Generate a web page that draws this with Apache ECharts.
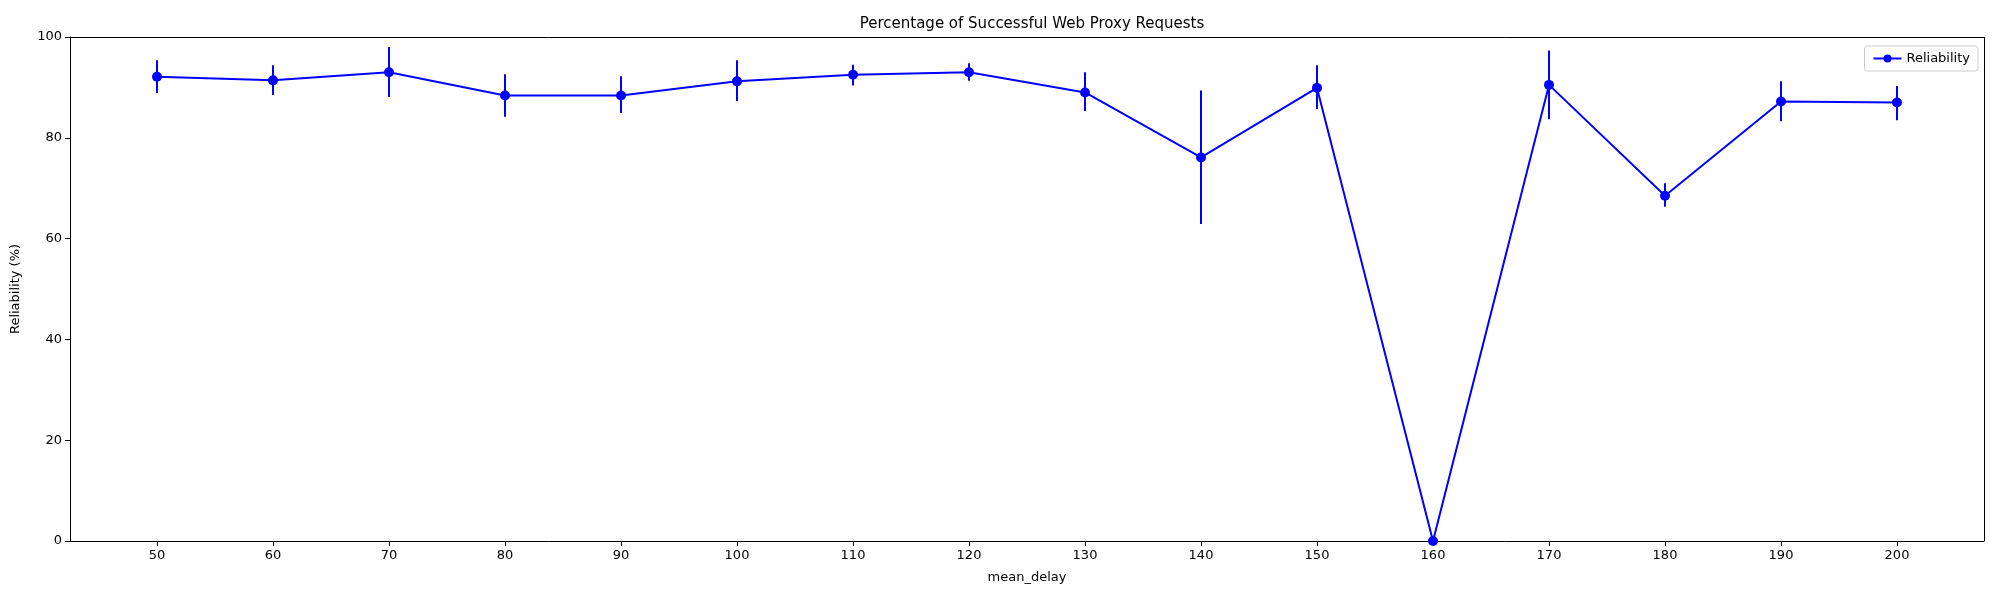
<!DOCTYPE html>
<html>
<head>
<meta charset="utf-8">
<script src="https://cdn.jsdelivr.net/npm/echarts@6/dist/echarts.min.js"></script>
<style>html,body{margin:0;padding:0;background:#fff}#chart{width:2000px;height:600px}</style>
</head>
<body>
<div id="chart"></div>
<script>
// 数据
var delays = [50, 60, 70, 80, 90, 100, 110, 120, 130, 140, 150, 160, 170, 180, 190, 200];
var reliability = [92.1, 91.4, 93.0, 88.4, 88.4, 91.2, 92.5, 93.0, 89.0, 76.1, 89.9, 0, 90.5, 68.5, 87.2, 87.0];
var errLow = [88.9, 88.5, 88.1, 84.2, 84.9, 87.3, 90.4, 91.3, 85.3, 62.9, 85.7, 0, 83.7, 66.3, 83.3, 83.5];
var errHigh = [95.4, 94.4, 98.0, 92.6, 92.2, 95.4, 94.5, 94.8, 93.0, 89.4, 94.4, 0, 97.3, 71.0, 91.2, 90.3];
var yTicks = [0, 20, 40, 60, 80, 100];

var chart = echarts.init(document.getElementById('chart'));
var font = 'DejaVu Sans';

var lineData = delays.map(function (d, i) { return [d, reliability[i]]; });
var errData = delays.map(function (d, i) { return [d, errLow[i], errHigh[i]]; });

chart.setOption({
    animation: false,
    textStyle: { fontFamily: font },
    title: {
        text: 'Percentage of Successful Web Proxy Requests',
        left: 1027, top: 12, textAlign: 'center',
        textStyle: { fontFamily: font, fontSize: 15, fontWeight: 'normal', color: '#000' }
    },
    legend: {
        data: ['Reliability'],
        right: 22, top: 46,
        orient: 'vertical',
        borderColor: '#ccc', borderWidth: 1, borderRadius: 3, padding: [6, 8],
        itemWidth: 28, itemHeight: 10,
        textStyle: { fontFamily: font, fontSize: 13, color: '#000' }
    },
    grid: { left: 70, right: 16, top: 37, bottom: 59 },
    xAxis: {
        type: 'value', min: 42.5, max: 207.5,
        name: 'mean_delay', nameLocation: 'middle', nameGap: 30,
        nameTextStyle: { fontFamily: font, fontSize: 13, color: '#000' },
        splitLine: { show: false },
        axisLine: { onZero: false, lineStyle: { color: '#000' } },
        axisTick: { customValues: delays, length: 5, lineStyle: { color: '#000' } },
        axisLabel: { customValues: delays, color: '#000', fontSize: 13, fontFamily: font, margin: 8 }
    },
    yAxis: {
        type: 'value', min: 0, max: 100, interval: 20,
        name: 'Reliability (%)', nameLocation: 'middle', nameGap: 48,
        nameTextStyle: { fontFamily: font, fontSize: 13, color: '#000' },
        splitLine: { show: false },
        axisLine: { show: true, lineStyle: { color: '#000' } },
        axisTick: { show: true, length: 5, lineStyle: { color: '#000' } },
        axisLabel: { color: '#000', fontSize: 13, fontFamily: font, margin: 8 }
    },
    series: [
        {
            name: 'Reliability', type: 'line', data: lineData,
            symbol: 'circle', symbolSize: 10,
            itemStyle: { color: '#0000ff' },
            lineStyle: { color: '#0000ff', width: 2 },
            z: 3
        },
        {
            name: 'err', type: 'custom', data: errData,
            renderItem: function (params, api) {
                var lo = api.coord([api.value(0), api.value(1)]);
                var hi = api.coord([api.value(0), api.value(2)]);
                return {
                    type: 'line',
                    shape: { x1: lo[0], y1: lo[1], x2: hi[0], y2: hi[1] },
                    style: { stroke: '#0000ff', lineWidth: 2 }
                };
            },
            z: 2
        },
        // 右侧边框
        {
            type: 'line', data: [], markLine: {
                silent: true, symbol: 'none', label: { show: false },
                lineStyle: { color: '#000', type: 'solid', width: 1 },
                data: [{ xAxis: 207.5 }, { yAxis: 100 }]
            }
        }
    ]
});
</script>
</body>
</html>
